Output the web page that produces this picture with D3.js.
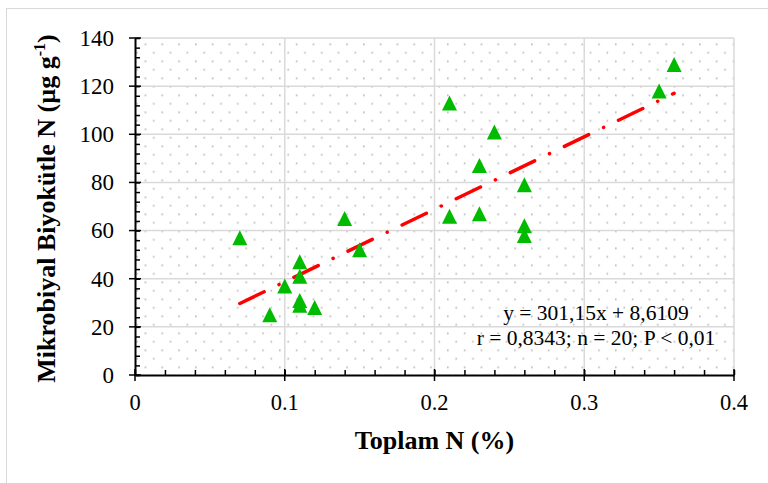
<!DOCTYPE html>
<html>
<head>
<meta charset="utf-8">
<script src="https://cdn.jsdelivr.net/npm/d3@7"></script>
<style>
  body { margin: 0; background: #fff; }
  svg text { font-family: "Liberation Serif", "Times New Roman", Times, serif; fill: #000; }
</style>
</head>
<body>
<div id="visual"></div>
<script>
// Toplam N (%) vs Mikrobiyal Biyokütle N
let totalN = [0.07, 0.09, 0.10, 0.11, 0.11, 0.11, 0.11, 0.12, 0.14, 0.15,
              0.21, 0.21, 0.23, 0.23, 0.24, 0.26, 0.26, 0.26, 0.35, 0.36]
let microbialN = [57, 25, 37, 47, 41, 31, 29, 28, 65, 52,
                  113, 66, 87, 67, 101, 79, 62, 58, 118, 129]
let xTicks = [0, 0.1, 0.2, 0.3, 0.4]
let yTicks = [0, 20, 40, 60, 80, 100, 120, 140]
let slope = 301.15
let intercept = 8.6109
let eqLines = ["y = 301,15x + 8,6109", "r = 0,8343; n = 20; P < 0,01"]

let W = 768, H = 483
let margin = { top: 38, right: 34, bottom: 108, left: 135 }
let width = W - margin.left - margin.right,
    height = H - margin.top - margin.bottom

let svg = d3.select("#visual")
    .append("svg")
    .attr("width", W)
    .attr("height", H)
    .attr("font-family", "'Liberation Serif', 'Times New Roman', serif")

// dotted background pattern
let defs = svg.append("defs")
let pat = defs.append("pattern")
    .attr("id", "dots")
    .attr("patternUnits", "userSpaceOnUse")
    .attr("x", margin.left + 9).attr("y", margin.top + 1.5)
    .attr("width", 16.8).attr("height", 17)
pat.append("rect").attr("x", 0).attr("y", 0).attr("width", 1.6).attr("height", 1.6).attr("fill", "#b3b3b3")
pat.append("rect").attr("x", 8.4).attr("y", 8.5).attr("width", 1.6).attr("height", 1.6).attr("fill", "#b3b3b3")

// outer chart border
svg.append("rect")
    .attr("x", 6.5).attr("y", 8.5)
    .attr("width", W).attr("height", H)
    .attr("fill", "none")
    .attr("stroke", "#d9d9d9")

let g = svg.append("g")
    .attr("transform", "translate(" + margin.left + "," + margin.top + ")")

let x = d3.scaleLinear().domain([0, 0.4]).range([0, width])
let y = d3.scaleLinear().domain([0, 140]).range([height, 0])

g.append("rect")
    .attr("width", width).attr("height", height)
    .attr("fill", "url(#dots)")

// grid lines
g.selectAll("vgrid")
    .data(xTicks.slice(1))
    .enter()
    .append("line")
    .attr("x1", d => x(d)).attr("x2", d => x(d))
    .attr("y1", 0).attr("y2", height)
    .attr("stroke", "#d9d9d9").attr("stroke-width", 1.5)

g.selectAll("hgrid")
    .data(yTicks.slice(1))
    .enter()
    .append("line")
    .attr("x1", 0).attr("x2", width)
    .attr("y1", d => y(d)).attr("y2", d => y(d))
    .attr("stroke", "#d9d9d9").attr("stroke-width", 1.5)

// axes
let xAxis = g.append("g")
    .attr("transform", "translate(0," + height + ")")
xAxis.call(d3.axisBottom(x).tickValues(d3.range(0, 0.4001, 0.02)).tickSize(0).tickFormat(""))
xAxis.selectAll(".tick line").attr("y2", -5).attr("stroke-width", 1.5)
xAxis.call(g2 => g2.select(".domain").attr("stroke-width", 2))
xAxis.selectAll("major")
    .data(xTicks)
    .enter()
    .append("line")
    .attr("x1", d => x(d)).attr("x2", d => x(d))
    .attr("y1", -6).attr("y2", 6)
    .attr("stroke", "#000").attr("stroke-width", 1.5)
xAxis.selectAll("lbl")
    .data(xTicks)
    .enter()
    .append("text")
    .attr("x", d => x(d))
    .attr("y", 35)
    .attr("text-anchor", "middle")
    .attr("font-size", 22.5)
    .text(d => d === 0 ? "0" : d.toFixed(1))

let yAxis = g.append("g")
yAxis.call(d3.axisLeft(y).tickValues(d3.range(0, 140.01, 4)).tickSize(0).tickFormat(""))
yAxis.selectAll(".tick line").attr("x2", 5).attr("stroke-width", 1.5)
yAxis.call(g2 => g2.select(".domain").attr("stroke-width", 2))
yAxis.selectAll("major")
    .data(yTicks)
    .enter()
    .append("line")
    .attr("x1", -6).attr("x2", 6)
    .attr("y1", d => y(d)).attr("y2", d => y(d))
    .attr("stroke", "#000").attr("stroke-width", 1.5)
yAxis.selectAll("lbl")
    .data(yTicks)
    .enter()
    .append("text")
    .attr("x", -21)
    .attr("y", d => y(d))
    .attr("dy", "0.34em")
    .attr("text-anchor", "end")
    .attr("font-size", 23)
    .text(d => d)

// trend line
let xs = d3.extent(totalN)
g.append("line")
    .attr("x1", x(xs[0])).attr("y1", y(slope * xs[0] + intercept))
    .attr("x2", x(xs[1])).attr("y2", y(slope * xs[1] + intercept))
    .attr("stroke", "#ff0000")
    .attr("stroke-width", 3.5)
    .attr("stroke-linecap", "round")
    .attr("stroke-dasharray", "27,16.5,0.1,16.5")

// points (Excel-style triangle marker, 15px box)
let tri = "M0,-7.5L7.5,7.5L-7.5,7.5Z"
g.selectAll("pt")
    .data(totalN.map((d, i) => [d, microbialN[i]]))
    .enter()
    .append("path")
    .attr("d", tri)
    .attr("transform", d => "translate(" + x(d[0]) + "," + y(d[1]) + ")")
    .attr("fill", "#00bb00")

// equation
g.selectAll("eq")
    .data(eqLines)
    .enter()
    .append("text")
    .attr("x", 461)
    .attr("y", (d, i) => 282 + i * 24.5)
    .attr("text-anchor", "middle")
    .attr("font-size", 21.5)
    .text(d => d)

// axis titles
svg.append("text")
    .attr("x", margin.left + width / 2)
    .attr("y", 449)
    .attr("text-anchor", "middle")
    .attr("font-size", 26)
    .attr("font-weight", "bold")
    .text("Toplam N (%)")

let yt = svg.append("text")
    .attr("transform", "translate(55," + (margin.top + height / 2 + 2) + ") rotate(-90)")
    .attr("text-anchor", "middle")
    .attr("font-size", 26)
    .attr("font-weight", "bold")
yt.append("tspan").text("Mikrobiyal Biyokütle N (µg g")
yt.append("tspan").attr("font-size", 16).attr("dy", -10).text("-1")
yt.append("tspan").attr("dy", 10).text(")")
</script>
</body>
</html>
